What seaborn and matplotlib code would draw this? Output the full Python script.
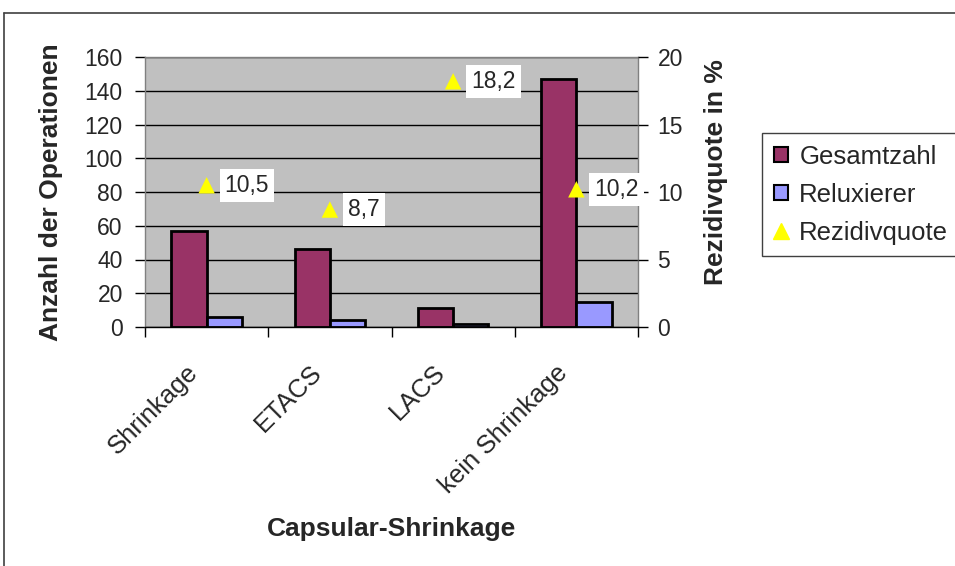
import matplotlib
matplotlib.use("Agg")
import matplotlib.pyplot as plt
from matplotlib.patches import Patch
from matplotlib.lines import Line2D
from matplotlib.transforms import ScaledTranslation
import numpy as np
import pandas as pd
import seaborn as sns

categories = ["Shrinkage", "ETACS", "LACS", "kein Shrinkage"]
gesamtzahl = [57, 46, 11, 147]
reluxierer = [6, 4, 2, 15]
rezidivquote = [10.5, 8.7, 18.2, 10.2]
rate_labels = ["10,5", "8,7", "18,2", "10,2"]
left_ticks = [0, 20, 40, 60, 80, 100, 120, 140, 160]
right_ticks = [0, 5, 10, 15, 20]

sns.set_theme(style="white")
plt.rcParams["font.family"] = ["Liberation Sans", "DejaVu Sans"]

df = pd.DataFrame({
    "Kategorie": categories * 2,
    "Wert": gesamtzahl + reluxierer,
    "Serie": ["Gesamtzahl"] * len(categories) + ["Reluxierer"] * len(categories),
})
colors = {"Gesamtzahl": "#993366", "Reluxierer": "#9999FF"}

fig = plt.figure(figsize=(9.55, 5.66), dpi=100)
ax = fig.add_axes([145 / 955, 1 - 327 / 566, (638 - 145) / 955, (327 - 57) / 566])
ax.set_facecolor("#C0C0C0")

sns.barplot(data=df, x="Kategorie", y="Wert", hue="Serie", palette=colors,
            width=0.57, edgecolor="black", linewidth=2, ax=ax, legend=False,
            saturation=1)

ax.set_ylim(0, 160)
ax.set_yticks(left_ticks)
ax.set_xlim(-0.5, len(categories) - 0.5)
ax.yaxis.grid(True, color="black", linewidth=1)
ax.set_axisbelow(True)
for s in ax.spines.values():
    s.set_color("#808080")
    s.set_linewidth(1)
ax.spines["bottom"].set_color("black")

ax.set_xticks(np.arange(len(categories) + 1) - 0.5, minor=True)
ax.set_xticks(np.arange(len(categories)))
ax.set_xticklabels(categories, rotation=45, ha="right", va="center",
                   rotation_mode="anchor", fontsize=18.5)
ax.tick_params(axis="x", which="major", length=0, pad=30)
ax.tick_params(axis="x", which="minor", bottom=True, length=7, width=1, color="black", direction="out")
ax.tick_params(axis="y", left=True, length=7, width=1, color="black", direction="out", labelsize=16.5, pad=9)
shift = ScaledTranslation(-12 / 100, 0, fig.dpi_scale_trans)
for lbl in ax.get_xticklabels():
    lbl.set_transform(lbl.get_transform() + shift)

ax.set_xlabel("Capsular-Shrinkage", fontsize=19, fontweight="bold")
ax.xaxis.set_label_coords(0.5, (327 - 517) / 270)
ax.set_ylabel("Anzahl der Operationen", fontsize=19, fontweight="bold")
ax.yaxis.set_label_coords((63 - 145) / 493, 0.5)

ax2 = ax.twinx()
sns.scatterplot(x=np.arange(len(categories)), y=rezidivquote, marker="^", color="#FFFF00",
                s=140, edgecolor="none", ax=ax2, legend=False, zorder=5)
ax2.set_ylim(0, 20)
ax2.set_yticks(right_ticks)
ax2.set_xlim(-0.5, len(categories) - 0.5)
ax2.tick_params(axis="y", right=True, length=7, width=1, color="black", direction="out", labelsize=16.5, pad=7)
ax2.set_ylabel("Rezidivquote in %", fontsize=19, fontweight="bold")
ax2.yaxis.set_label_coords((704 - 145) / 493, (327 - 172) / 270)
for s in ax2.spines.values():
    s.set_visible(False)

for i, (v, lab) in enumerate(zip(rezidivquote, rate_labels)):
    t = ax2.annotate(lab, xy=(i, v), xytext=(13, 0), textcoords="offset points",
                     ha="left", va="center", fontsize=16.5,
                     bbox=dict(boxstyle="square,pad=0.22", facecolor="white", edgecolor="none"),
                     annotation_clip=False)
    t.set_clip_on(True)

handles = [
    Patch(facecolor=colors["Gesamtzahl"], edgecolor="black", linewidth=1.5),
    Patch(facecolor=colors["Reluxierer"], edgecolor="black", linewidth=1.5),
    Line2D([], [], marker="^", linestyle="none", color="#FFFF00", markersize=12),
]
leg = fig.legend(handles, ["Gesamtzahl", "Reluxierer", "Rezidivquote"],
                 loc="upper left", bbox_to_anchor=(762 / 955, 1 - 133 / 566),
                 fontsize=18.5, frameon=True, fancybox=False, framealpha=1,
                 handlelength=0.55, handleheight=0.55, handletextpad=0.45,
                 labelspacing=0.55, borderpad=0.45, borderaxespad=0)
leg.get_frame().set_edgecolor("#404040")
leg.get_frame().set_linewidth(1)

fig.add_artist(Line2D([4 / 955, 4 / 955], [0, 1 - 13 / 566], transform=fig.transFigure,
                      color="#404040", linewidth=1.2))
fig.add_artist(Line2D([4 / 955, 1], [1 - 13 / 566, 1 - 13 / 566], transform=fig.transFigure,
                      color="#404040", linewidth=1.2))

fig.savefig("out.png", dpi=100)
